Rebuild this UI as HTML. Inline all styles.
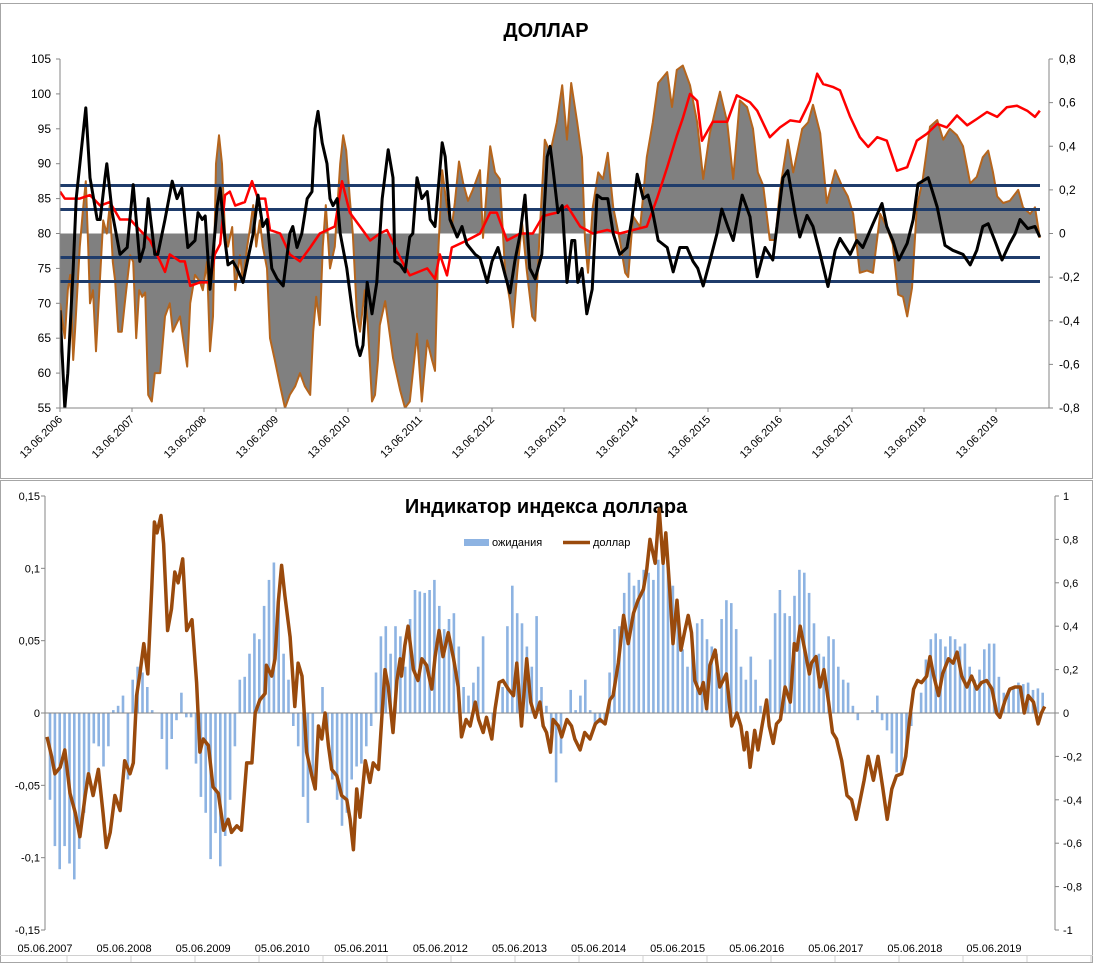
<!DOCTYPE html>
<html><head><meta charset="utf-8"><style>
html,body{margin:0;padding:0;background:#fff;}
svg{display:block;font-family:"Liberation Sans","DejaVu Sans",sans-serif;}
</style></head><body>
<svg id="chart" width="1095" height="963" viewBox="0 0 1095 963">
<rect x="0" y="0" width="1095" height="963" fill="#fff"/>
<rect x="0.5" y="3.5" width="1092" height="475" fill="none" stroke="#a6a6a6"/>
<rect x="0.5" y="480.5" width="1092" height="482" fill="none" stroke="#a6a6a6"/>
<text x="546" y="37" text-anchor="middle" font-size="20" font-weight="bold">ДОЛЛАР</text>
<text x="546" y="513" text-anchor="middle" font-size="20" font-weight="bold">Индикатор индекса доллара</text>
<g>
<rect x="464" y="539" width="25" height="7" fill="#8db3e2"/>
<text x="492" y="546" font-size="11">ожидания</text>
<line x1="563" y1="542.5" x2="590" y2="542.5" stroke="#9a4a0c" stroke-width="3.5"/>
<text x="593" y="546" font-size="11">доллар</text>
</g>
<g id="topG"></g>
<g id="botG"></g>
</svg>
<script>
// ---------- TOP CHART DATA (months since 13.06.2006) ----------
const topYearLabels = ["13.06.2006","13.06.2007","13.06.2008","13.06.2009","13.06.2010","13.06.2011","13.06.2012","13.06.2013","13.06.2014","13.06.2015","13.06.2016","13.06.2017","13.06.2018","13.06.2019"];
const topLeftTicks = [55,60,65,70,75,80,85,90,95,100,105];
const topRightTicks = [-0.8,-0.6,-0.4,-0.2,0,0.2,0.4,0.6,0.8];
const topRightTickLabels = ["-0,8","-0,6","-0,4","-0,2","0","0,2","0,4","0,6","0,8"];
const bandLevels = [0.22,0.11,-0.11,-0.22];
const blackMonths = [0,0.8,1.3,2.2,2.7,4.3,5,6.2,6.7,7.5,7.8,8.7,10,11.2,12.2,13.3,14,14.7,15.8,16.3,17.5,18.7,19.5,20.3,21.3,22.5,23,23.7,24.2,25,26.2,26.7,27.5,28,28.8,29.5,30.5,32.2,33,33.8,34.5,35.3,36.2,37.2,38.3,38.8,39.5,40.3,41.2,42,42.5,43,43.7,44.5,45,45.5,46.2,46.7,47.8,48.7,49.5,50,50.5,51.2,52,52.8,53.7,54.7,55.5,55.8,56.7,57.5,58.3,58.8,59.5,60.3,61.2,61.7,62.5,63.7,64.2,65,66.2,67,67.8,69.2,70,71.2,72,73,74.2,75,75.8,76.7,77.5,78.3,79.2,80.3,81.2,81.7,82.2,83,83.7,84.5,85.3,85.8,86.3,87,87.8,88.7,89.5,90.3,91.3,92.2,93.3,94.5,95.3,96.2,97.2,98,98.8,99.7,101.2,102.2,103.3,104.5,105.5,106.3,107.2,108.3,109.5,110.3,111.3,112.2,113.7,115,116.2,117.5,118.8,120.5,121.3,122.5,123.3,124.5,125.5,126.7,128,129.2,130,131.7,132.8,133.8,135.5,137,137.8,138.8,139.8,141.2,142.2,143,144.7,146.2,147.5,148.8,150.5,151.7,152.8,153.8,154.7,155.8,157,158.3,159.2,160,161.3,162.5,163.3];
const blackValues = [69,55,60,75,85,98,88,82,82,88,90,83,77,78,87,76,78,85,77,77,82,87.5,85,86.5,78,79,83,82,82.5,72,84,86.5,79,75.5,76,75,73,80,85.5,81,82,75,73.5,72.5,80,81,78,80,85,86,95,97.5,93,90,85,84,85,80,75,69,64,62.5,64,73,68.5,73,85,92,88,76,75.5,74.5,79.5,80,88,85,86,82,81,93,91,82,79.5,81,78.5,77,76.5,73,76,78,74,71.5,76,80,85.5,75,73.5,77,91,92.5,89,83,84,73,79,79,73,75,68.5,72,85.5,85,85,80,77,78,82,88.5,85,85.5,83,79,78,74.5,78,78,76,75,72.5,76,80,83.5,81,79,85.5,82.4,73.8,78,76.2,88,89,82.9,79.5,82.6,81,77,72.4,77.6,79.3,77,79,78,81.4,84.3,81,79,76.2,78.6,82,87.1,88,83.8,78.3,77.6,77,75.5,77.6,81,81.4,79,76.2,78.6,80,82,80.7,81,79.5];
const redMonths = [0,0.8,3.3,5,6.7,8.3,10,11.7,13.3,15,16.7,17.5,18.3,20,20.8,21.7,23.3,25,25.8,26.7,27.5,28.3,29.2,30.8,32,33,34.2,35,36.7,38.3,40,41.7,43.3,45.8,47,48.3,50,51.7,53.3,54.5,56.7,58.3,61.2,62.5,63.3,64.5,65.3,67.8,70,71.7,72.8,74.5,76.7,78.8,80.5,82.8,84.5,86.7,88.8,91.2,93.3,95.5,97.8,99.5,101.2,102.8,103.8,105,106.2,107,108.8,111.2,112.8,115,116.2,118.3,120,121.7,123.3,125,126.2,127.2,128.8,130,131.7,133.3,134.7,136.2,137.8,139.5,141.2,142.8,144.5,146.2,147.8,149.5,151.2,152.8,154.5,156.2,157.8,159.5,161.2,162.5,163.3];
const redValues = [86,85,85,85.5,84,84.5,82,82,80.5,79,76,74.5,77,76,76,72.5,73,73,77,78.5,85.5,86,84,84.5,87.5,85,85,80.5,80,77,76,78,80,81,87.5,83,81,79,80,80.5,76.5,74,75,73.5,77,74,78,79,80,83,83,79,80,80,82.5,83,84,81,80,80.5,80,80.5,81,85,89.5,94,96.5,100,99,93.3,96,96,99.8,98.8,97.6,93.8,95.2,96.2,96,99,102.9,101.4,101,100.5,96.7,93.8,92.4,93.8,93.3,89,89.5,93.3,94.3,95.7,95.2,96.9,95.5,96.4,97.4,96.7,98.1,98.3,97.6,96.7,97.6];
const brownMonths = [0,0.5,0.8,1.3,1.7,2.2,2.5,3.3,3.8,4.3,4.7,5,5.5,6,6.7,7.2,7.8,8.3,8.8,9.2,9.7,10.3,10.8,11.2,11.7,12.2,12.7,13.2,13.7,14.2,14.7,15.3,15.8,16.7,17.5,18.3,18.8,19.3,20,20.5,21.2,21.7,22.5,23.3,23.8,24.5,25,25.5,26,26.5,27,27.5,28,28.7,29.2,30,30.5,31.2,31.7,32.2,32.7,33.3,33.8,34.5,35,35.8,36.7,37.5,38.3,39.2,40,40.8,41.7,42.2,42.7,43.3,43.8,44.3,45,45.8,46.7,47.2,47.7,48.3,48.8,49.5,50,50.8,51.3,52,52.5,53,53.3,54.2,55.5,56.7,57.5,58.3,59.5,60.3,61.2,62,62.5,63,63.7,64.5,65.3,65.8,66.5,67.2,68,68.8,70,70.5,71.7,72.5,73.3,74.2,75,75.5,76.2,77,77.8,78.7,79.2,80,80.8,81.7,82.8,83.7,84.5,85.2,86.2,87,87.5,88,88.8,89.7,90.5,91.3,92.2,93.3,94.2,94.7,95.5,96.7,97.8,98.8,99.7,101.2,102,102.8,103.8,105,106.2,107.2,108.3,110,111.2,112.2,113.3,114.5,115.5,116.3,117.2,118.3,119.2,120,121.3,122.2,123.7,124.7,125.5,126.7,127.8,129.2,130.3,131.3,132.2,133.3,134.5,135.5,136.7,137.8,138.8,139.7,140.5,141.2,142,142.8,143.8,145,146.2,147.2,148.3,149.5,150.5,151.7,152.8,153.8,154.7,155.5,156.2,157.2,158.3,159.7,160.5,161.7,162.5,163.3];
const brownValues = [-0.32,-0.42,-0.48,-0.26,-0.19,-0.58,-0.45,-0.06,0.1,0.24,-0.06,-0.32,-0.26,-0.54,-0.19,0.06,0,0.13,-0.13,-0.22,-0.45,-0.45,-0.32,-0.22,-0.1,-0.13,-0.48,-0.26,-0.29,-0.27,-0.74,-0.77,-0.64,-0.64,-0.38,-0.32,-0.45,-0.42,-0.38,-0.48,-0.61,-0.32,-0.19,-0.22,-0.26,-0.13,-0.54,-0.38,0.32,0.45,0.32,0,-0.06,0.03,-0.26,-0.1,-0.22,-0.06,0.03,0.13,-0.06,0.06,-0.06,-0.16,-0.48,-0.58,-0.7,-0.8,-0.74,-0.7,-0.64,-0.7,-0.74,-0.45,-0.29,-0.42,-0.06,0.13,-0.16,-0.06,0.32,0.45,0.38,0.16,0,-0.38,-0.45,-0.26,-0.42,-0.77,-0.74,-0.58,-0.42,-0.31,-0.57,-0.72,-0.8,-0.77,-0.46,-0.77,-0.49,-0.58,-0.63,-0.11,0.29,0.12,0.03,0.14,0.33,0.23,0.15,0.2,0.29,-0.02,0.4,0.28,0.25,-0.18,-0.31,-0.43,-0.18,0.05,-0.17,-0.38,-0.4,0.03,0.43,0.37,0.51,0.68,0.43,0.69,0.51,0.35,-0.03,-0.18,0.12,0.28,0.25,0.37,0.12,-0.03,-0.18,-0.2,0.08,0.03,0.35,0.51,0.69,0.74,0.58,0.75,0.77,0.68,0.51,0.25,0.46,0.65,0.51,0.25,0.61,0.58,0.48,0.28,0.22,-0.03,-0.03,0.2,0.43,0.28,0.48,0.51,0.59,0.46,0.14,0.29,0.22,0.17,0.09,-0.18,-0.17,-0.18,0.09,0.03,-0.05,-0.28,-0.29,-0.38,-0.25,0.12,0.25,0.49,0.52,0.43,0.48,0.45,0.4,0.23,0.26,0.35,0.38,0.28,0.17,0.14,0.15,0.2,0.12,0.09,0.12,-0.02];

// ---------- BOTTOM CHART DATA (months since 05.06.2007) ----------
const botYearLabels = ["05.06.2007","05.06.2008","05.06.2009","05.06.2010","05.06.2011","05.06.2012","05.06.2013","05.06.2014","05.06.2015","05.06.2016","05.06.2017","05.06.2018","05.06.2019"];
const botLeftTicks = [-0.15,-0.1,-0.05,0,0.05,0.1,0.15];
const botLeftTickLabels = ["-0,15","-0,1","-0,05","0","0,05","0,1","0,15"];
const botRightTicks = [-1,-0.8,-0.6,-0.4,-0.2,0,0.2,0.4,0.6,0.8,1];
const botRightTickLabels = ["-1","-0,8","-0,6","-0,4","-0,2","0","0,2","0,4","0,6","0,8","1"];
const barStartMonth = 0.76;
const barEndMonth = 151.4;
const expectationValues = [-0.06,-0.092,-0.108,-0.092,-0.104,-0.115,-0.094,-0.069,-0.046,-0.021,-0.023,-0.037,-0.023,0.002,0.005,0.012,-0.046,0.023,0.032,0.028,0.018,0.002,0,-0.018,-0.039,-0.018,-0.005,0.014,-0.003,-0.003,-0.035,-0.058,-0.069,-0.101,-0.083,-0.106,-0.085,-0.06,-0.023,0.023,0.025,0.041,0.055,0.051,0.074,0.092,0.104,0.083,0.041,0.023,-0.009,-0.023,-0.058,-0.076,-0.046,0,0.018,-0.012,-0.046,-0.06,-0.078,-0.069,-0.046,-0.037,-0.035,-0.023,-0.009,0.028,0.053,0.06,0.041,
0.06,0.053,0.032,0.065,0.085,0.084,0.083,0.085,0.092,0.074,0.058,0.065,0.069,0.046,0.018,0.012,0.021,0.032,0.053,0,-0.005,0,0.018,0.06,0.088,0.069,0.062,0.046,0.032,0.067,0.018,0.005,-0.014,-0.048,-0.028,0,0.016,0.002,0.012,0.023,0.002,-0.009,-0.007,-0.005,0.028,0.058,0.06,0.083,0.097,0.088,0.092,0.099,0.097,0.092,0.106,0.104,0.101,0.088,0.069,0.044,0.032,0.044,0.062,0.065,0.051,0.046,0.041,0.065,0.078,0.076,0.058,0.032,0.023,
0.039,0.023,0.005,0.002,0.037,0.069,0.085,0.069,0.067,0.081,0.099,0.097,0.083,0.062,0.041,0.039,0.053,0.051,0.032,0.023,0.021,0.005,-0.005,0,0,0.002,0.012,-0.005,-0.012,-0.028,-0.041,-0.041,-0.028,-0.009,0,0.014,0.037,0.051,0.055,0.051,0.046,0.053,0.051,0.046,0.048,0.032,0.023,0.03,0.044,0.048,0.048,0.025,0.014,0.016,0.018,0.021,0.02,0.021,0.016,0.017,0.014];
const dollarMonths = [0.3,1.0,1.5,2.3,3.0,3.8,4.6,5.3,6.1,6.6,7.3,8.1,8.8,9.3,9.9,10.6,11.4,12.1,12.9,13.4,13.9,14.4,15.0,15.6,16.2,16.6,17.0,17.6,18.0,18.6,19.2,19.7,20.2,20.9,21.5,22.3,23.0,23.5,24.0,24.8,25.5,26.3,27.1,27.8,28.3,29.1,29.8,30.6,31.4,31.9,32.6,33.4,33.6,34.4,34.9,35.4,35.9,36.4,37.2,37.9,38.4,39.0,39.7,40.5,41.0,41.5,42.0,42.5,43.0,43.5,44.3,45.0,45.8,46.3,46.8,47.3,47.8,48.6,49.3,49.8,50.6,51.1,51.6,52.1,52.8,53.4,53.9,54.1,54.6,55.1,55.9,56.6,57.2,57.9,58.7,59.2,59.8,60.4,61.2,62.0,62.7,63.2,63.9,64.5,65.3,65.8,66.5,67.0,67.8,68.3,68.9,69.5,70.3,71.1,71.6,72.3,73.1,73.7,74.4,75.1,75.6,76.1,76.7,77.1,77.9,78.4,79.2,79.9,80.4,81.2,81.9,82.7,83.5,84.2,85.0,85.7,86.2,87.0,87.8,88.5,89.3,90.0,90.8,91.3,91.8,92.6,93.2,93.8,94.2,94.8,95.3,95.9,96.5,97.1,97.6,98.1,98.6,99.4,99.9,100.4,100.9,101.7,102.4,103.4,104.2,105.0,105.6,106.1,106.5,107.0,107.7,108.2,108.8,109.5,109.9,110.5,111.0,111.6,112.3,113.1,113.7,114.1,114.6,115.3,116.0,116.3,117.0,117.6,118.2,118.9,119.5,120.1,120.9,121.7,122.4,123.1,123.7,124.3,124.9,125.7,126.4,127.1,127.8,128.5,129.2,130.0,130.6,131.2,131.8,132.4,133.0,133.8,134.3,134.8,135.6,136.2,137.1,137.8,138.4,139.1,139.9,140.6,141.4,142.1,142.9,143.7,144.4,144.9,145.7,146.4,147.2,148.0,148.6,149.2,150.0,150.7,151.2,151.7];
const dollarValues = [-0.11,-0.2,-0.28,-0.25,-0.17,-0.37,-0.46,-0.57,-0.38,-0.28,-0.38,-0.26,-0.46,-0.62,-0.55,-0.38,-0.45,-0.22,-0.28,-0.23,0.08,0.18,0.32,0.18,0.58,0.88,0.83,0.91,0.78,0.38,0.48,0.65,0.6,0.71,0.38,0.43,0.14,-0.18,-0.12,-0.15,-0.34,-0.37,-0.54,-0.49,-0.55,-0.52,-0.54,-0.23,-0.23,0,0.06,0.09,0.22,0.17,0.25,0.51,0.68,0.54,0.35,0.03,0.23,0.17,-0.18,-0.29,-0.35,-0.06,-0.12,0,-0.15,-0.26,-0.29,-0.38,-0.4,-0.49,-0.63,-0.35,-0.48,-0.22,-0.32,-0.23,-0.26,-0.03,0.2,0.12,-0.09,0.15,0.25,0.17,0.31,0.4,0.2,0.15,0.25,0.22,0.11,0.26,0.38,0.26,0.37,0.25,0.12,-0.11,-0.03,-0.06,0.05,-0.03,-0.09,-0.02,-0.12,0.02,0.14,0.15,0.11,0.08,0.23,-0.06,0.25,0.05,-0.02,0.05,-0.06,-0.09,-0.18,-0.03,-0.06,-0.11,-0.03,-0.06,-0.12,-0.17,-0.09,-0.12,-0.05,-0.03,-0.05,0.06,0.08,0.23,0.45,0.32,0.46,0.52,0.57,0.66,0.8,0.69,0.94,0.69,0.83,0.57,0.32,0.52,0.29,0.38,0.45,0.37,0.15,0.09,0.14,0.02,0.22,0.29,0.12,0.18,-0.06,0,-0.06,-0.17,-0.09,-0.25,-0.08,-0.17,-0.06,0.06,-0.06,-0.14,-0.05,-0.03,0.12,0.05,0.32,0.29,0.4,0.29,0.18,0.23,0.26,0.12,0.2,0.05,-0.09,-0.12,-0.22,-0.38,-0.4,-0.49,-0.4,-0.31,-0.2,-0.31,-0.2,-0.34,-0.49,-0.35,-0.29,-0.28,-0.2,-0.03,0.11,0.15,0.14,0.17,0.26,0.18,0.08,0.18,0.25,0.23,0.28,0.17,0.12,0.17,0.11,0.14,0.15,0.11,0,-0.02,0.06,0.11,0.12,0.12,0,0.08,0.05,-0.05,0,0.03];

const NS = "http://www.w3.org/2000/svg";
function mk(parent, tag, attrs){const e=document.createElementNS(NS,tag);for(const k in attrs)e.setAttribute(k,attrs[k]);parent.appendChild(e);return e;}

// ---- TOP axes ----
const T = {x0:60, x1:1049, y0:59, y1:408, pxPerMonth:6};
const tX = m => T.x0 + m*T.pxPerMonth;
const tYL = v => T.y1 - (v-55)/50*(T.y1-T.y0);
const tYR = v => T.y1 - (v+0.8)/1.6*(T.y1-T.y0);
const topG = document.getElementById('topG');

const defs = mk(document.getElementById('chart'),'defs',{});
const cp = mk(defs,'clipPath',{id:'topclip'});
mk(cp,'rect',{x:T.x0,y:T.y0,width:T.x1-T.x0,height:T.y1-T.y0});

function linePath(ms, vs, xf, yf){
  const n = Math.min(ms.length, vs.length);
  let d = "";
  for(let i=0;i<n;i++){d += (i?" L":"M")+xf(ms[i]).toFixed(1)+","+yf(vs[i]).toFixed(1);}
  return d;
}

// area
const nBrown = Math.min(brownMonths.length, brownValues.length);
let ad = "M"+tX(brownMonths[0])+","+tYR(0)+" "+linePath(brownMonths,brownValues,tX,tYR).replace(/^M/,"L");
ad += " L"+tX(brownMonths[nBrown-1])+","+tYR(0)+" Z";
const area = mk(topG,'path',{d:ad,fill:'#808080','clip-path':'url(#topclip)'});



const bl = mk(topG,'path',{d:linePath(brownMonths,brownValues,tX,tYR),fill:'none',stroke:'#b5651d','stroke-width':2,'stroke-linejoin':'round','clip-path':'url(#topclip)'});



bandLevels.forEach((b,i)=>{
  const l = mk(topG,'line',{x1:T.x0,x2:1040,y1:tYR(b),y2:tYR(b),stroke:'#1f3c6b','stroke-width':3});
  
  
});
const rl = mk(topG,'path',{d:linePath(redMonths,redValues,tX,tYL),fill:'none',stroke:'#ff0000','stroke-width':2.5,'stroke-linejoin':'round','clip-path':'url(#topclip)'});


const kl = mk(topG,'path',{d:linePath(blackMonths,blackValues,tX,tYL),fill:'none',stroke:'#000','stroke-width':3,'stroke-linejoin':'round','clip-path':'url(#topclip)'});



const tla = mk(topG,'line',{x1:T.x0,x2:T.x0,y1:T.y0,y2:T.y1,stroke:'#868686'});


const tra = mk(topG,'line',{x1:T.x1,x2:T.x1,y1:T.y0,y2:T.y1,stroke:'#868686'});


const tba = mk(topG,'line',{x1:T.x0,x2:T.x1,y1:T.y1,y2:T.y1,stroke:'#868686'});


topLeftTicks.forEach(v=>{
  mk(topG,'line',{x1:T.x0-4,x2:T.x0,y1:tYL(v),y2:tYL(v),stroke:'#868686'});
  const t = mk(topG,'text',{x:T.x0-9,y:tYL(v)+4,'text-anchor':'end','font-size':12});
  t.textContent = v;
  
  
});
topRightTicks.forEach((v,i)=>{
  mk(topG,'line',{x1:T.x1,x2:T.x1+4,y1:tYR(v),y2:tYR(v),stroke:'#868686'});
  const t = mk(topG,'text',{x:T.x1+10,y:tYR(v)+4,'font-size':12});
  t.textContent = topRightTickLabels[i];
  
  
});
topYearLabels.forEach((lab,i)=>{
  const x = tX(i*12);
  mk(topG,'line',{x1:x,x2:x,y1:T.y1,y2:T.y1+4,stroke:'#868686'});
  const t = mk(topG,'text',{x:x+3,y:T.y1+12,'text-anchor':'end','font-size':11,transform:'rotate(-45 '+(x+3)+' '+(T.y1+12)+')'});
  t.textContent = lab;
  
  
});

// ---- BOTTOM ----
const B = {x0:45, x1:1055, y0:496, y1:930, pxPerMonth:6.59};
const bX = m => B.x0 + m*B.pxPerMonth;
const bYL = v => B.y1 - (v+0.15)/0.3*(B.y1-B.y0);
const bYR = v => B.y1 - (v+1)/2*(B.y1-B.y0);
const botG = document.getElementById('botG');
const nb = expectationValues.length;
expectationValues.forEach((v,i)=>{
  const m = barStartMonth + (barEndMonth-barStartMonth)*i/(nb-1);
  const x = bX(m);
  const y0 = bYL(0), y = bYL(v);
  const r = mk(botG,'rect',{x:(x-1.3).toFixed(1),y:Math.min(y0,y).toFixed(1),width:2.6,height:Math.max(0.5,Math.abs(y-y0)).toFixed(1),fill:'#8db3e2'});
  
  
});
const zl = mk(botG,'line',{x1:B.x0,x2:B.x1,y1:bYL(0),y2:bYL(0),stroke:'#868686'});


const dl = mk(botG,'path',{d:linePath(dollarMonths,dollarValues,bX,bYR),fill:'none',stroke:'#9a4a0c','stroke-width':3.5,'stroke-linejoin':'round'});



const bla = mk(botG,'line',{x1:B.x0,x2:B.x0,y1:B.y0,y2:B.y1,stroke:'#868686'});


const bra = mk(botG,'line',{x1:B.x1,x2:B.x1,y1:B.y0,y2:B.y1,stroke:'#868686'});


botLeftTicks.forEach((v,i)=>{
  mk(botG,'line',{x1:B.x0-4,x2:B.x0,y1:bYL(v),y2:bYL(v),stroke:'#868686'});
  const t = mk(botG,'text',{x:B.x0-5,y:bYL(v)+4,'text-anchor':'end','font-size':11});
  t.textContent = botLeftTickLabels[i];
  
  
});
botRightTicks.forEach((v,i)=>{
  mk(botG,'line',{x1:B.x1,x2:B.x1+4,y1:bYR(v),y2:bYR(v),stroke:'#868686'});
  const t = mk(botG,'text',{x:B.x1+8,y:bYR(v)+4,'font-size':11});
  t.textContent = botRightTickLabels[i];
  
  
});
botYearLabels.forEach((lab,i)=>{
  const t = mk(botG,'text',{x:bX(i*12),y:952,'text-anchor':'middle','font-size':11});
  t.textContent = lab;
  
  
});
const bxa = mk(botG,'line',{x1:0,x2:1093,y1:955.5,y2:955.5,stroke:'#d0d0d0'});


for(let x=67;x<1093;x+=64){mk(botG,'line',{x1:x,x2:x,y1:955,y2:962,stroke:'#d0d0d0'});}
</script>
</body></html>
